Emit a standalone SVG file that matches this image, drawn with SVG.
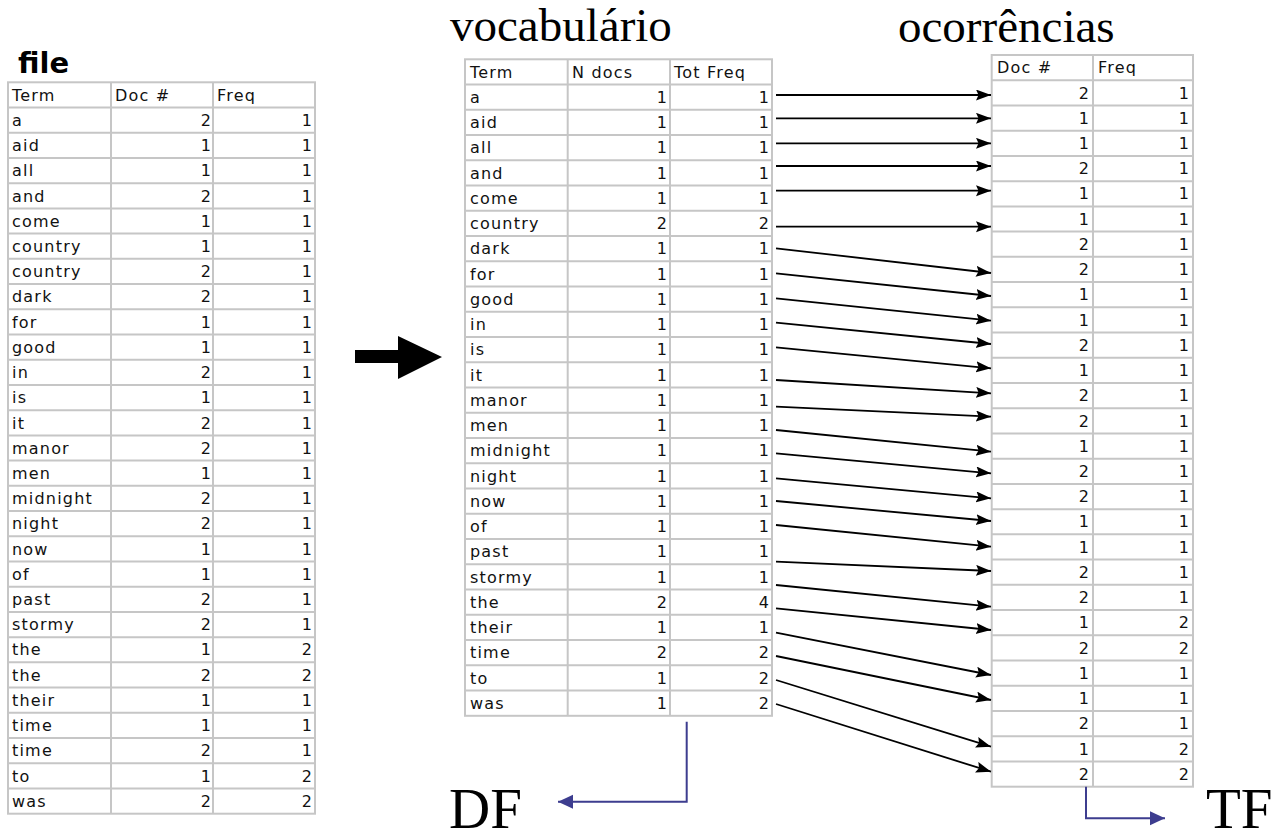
<svg xmlns="http://www.w3.org/2000/svg" width="1272" height="839" viewBox="0 0 1272 839">
  <style>
    .grid { fill: #ffffff; stroke: #c6c6c6; stroke-width: 2; }
    .gl { fill: none; stroke: #c6c6c6; stroke-width: 2; }
    .cell { font-family: "DejaVu Sans", "Liberation Sans", sans-serif; font-size: 16px; fill: #111111; }
    .term { letter-spacing: 1.2px; }
    .num { text-anchor: end; }
    .title { font-family: "Liberation Serif", "Times New Roman", serif; font-size: 47px; fill: #000000; }
    .big { font-family: "Liberation Serif", "Times New Roman", serif; font-size: 57px; fill: #000000; }
    .link { fill: none; stroke: #000000; stroke-width: 1.8; }
    .blue { fill: none; stroke: #3d3d8f; stroke-width: 2; }
  </style>
  <defs>
    <marker id="head" markerUnits="userSpaceOnUse" markerWidth="16" markerHeight="12" refX="15" refY="5.5" orient="auto">
      <path d="M0,0 L15,5.5 L0,11 L2.5,5.5 z" fill="#000000"/>
    </marker>
    <marker id="headBlue" markerUnits="userSpaceOnUse" markerWidth="16" markerHeight="15" refX="15" refY="7" orient="auto">
      <path d="M0,0 L15,7 L0,14 z" fill="#3d3d8f"/>
    </marker>
  </defs>

  <rect x="0" y="0" width="1272" height="839" fill="#ffffff"/>

  <!-- source file: term / document / frequency -->
  <g id="file-table">
    <text x="18" y="72.5" font-family="DejaVu Sans, Liberation Sans, sans-serif" font-weight="bold" font-size="29" fill="#000">file</text>
    <rect class="grid" x="8" y="82.3" width="307" height="731.4"/>
    <path class="gl" d="M111,82.3 V813.7 M213,82.3 V813.7
      M8,107.52 H315 M8,132.74 H315 M8,157.96 H315 M8,183.18 H315 M8,208.4 H315
      M8,233.62 H315 M8,258.84 H315 M8,284.06 H315 M8,309.28 H315 M8,334.5 H315
      M8,359.72 H315 M8,384.94 H315 M8,410.16 H315 M8,435.38 H315 M8,460.6 H315
      M8,485.82 H315 M8,511.04 H315 M8,536.26 H315 M8,561.48 H315 M8,586.7 H315
      M8,611.92 H315 M8,637.14 H315 M8,662.36 H315 M8,687.58 H315 M8,712.8 H315
      M8,738.02 H315 M8,763.24 H315 M8,788.46 H315"/>
    <g class="cell">
      <text class="term" x="12" y="100.6">Term</text>
      <text class="term" x="115" y="100.6">Doc #</text>
      <text class="term" x="217" y="100.6">Freq</text>
    </g>
    <g class="cell term">
      <text x="12" y="125.8">a</text>
      <text x="12" y="151.0">aid</text>
      <text x="12" y="176.3">all</text>
      <text x="12" y="201.5">and</text>
      <text x="12" y="226.7">come</text>
      <text x="12" y="251.9">country</text>
      <text x="12" y="277.1">country</text>
      <text x="12" y="302.4">dark</text>
      <text x="12" y="327.6">for</text>
      <text x="12" y="352.8">good</text>
      <text x="12" y="378.0">in</text>
      <text x="12" y="403.2">is</text>
      <text x="12" y="428.5">it</text>
      <text x="12" y="453.7">manor</text>
      <text x="12" y="478.9">men</text>
      <text x="12" y="504.1">midnight</text>
      <text x="12" y="529.3">night</text>
      <text x="12" y="554.6">now</text>
      <text x="12" y="579.8">of</text>
      <text x="12" y="605.0">past</text>
      <text x="12" y="630.2">stormy</text>
      <text x="12" y="655.4">the</text>
      <text x="12" y="680.7">the</text>
      <text x="12" y="705.9">their</text>
      <text x="12" y="731.1">time</text>
      <text x="12" y="756.3">time</text>
      <text x="12" y="781.5">to</text>
      <text x="12" y="806.8">was</text>
    </g>
    <g class="cell num">
      <text x="211" y="125.8">2</text><text x="312" y="125.8">1</text>
      <text x="211" y="151.0">1</text><text x="312" y="151.0">1</text>
      <text x="211" y="176.3">1</text><text x="312" y="176.3">1</text>
      <text x="211" y="201.5">2</text><text x="312" y="201.5">1</text>
      <text x="211" y="226.7">1</text><text x="312" y="226.7">1</text>
      <text x="211" y="251.9">1</text><text x="312" y="251.9">1</text>
      <text x="211" y="277.1">2</text><text x="312" y="277.1">1</text>
      <text x="211" y="302.4">2</text><text x="312" y="302.4">1</text>
      <text x="211" y="327.6">1</text><text x="312" y="327.6">1</text>
      <text x="211" y="352.8">1</text><text x="312" y="352.8">1</text>
      <text x="211" y="378.0">2</text><text x="312" y="378.0">1</text>
      <text x="211" y="403.2">1</text><text x="312" y="403.2">1</text>
      <text x="211" y="428.5">2</text><text x="312" y="428.5">1</text>
      <text x="211" y="453.7">2</text><text x="312" y="453.7">1</text>
      <text x="211" y="478.9">1</text><text x="312" y="478.9">1</text>
      <text x="211" y="504.1">2</text><text x="312" y="504.1">1</text>
      <text x="211" y="529.3">2</text><text x="312" y="529.3">1</text>
      <text x="211" y="554.6">1</text><text x="312" y="554.6">1</text>
      <text x="211" y="579.8">1</text><text x="312" y="579.8">1</text>
      <text x="211" y="605.0">2</text><text x="312" y="605.0">1</text>
      <text x="211" y="630.2">2</text><text x="312" y="630.2">1</text>
      <text x="211" y="655.4">1</text><text x="312" y="655.4">2</text>
      <text x="211" y="680.7">2</text><text x="312" y="680.7">2</text>
      <text x="211" y="705.9">1</text><text x="312" y="705.9">1</text>
      <text x="211" y="731.1">1</text><text x="312" y="731.1">1</text>
      <text x="211" y="756.3">2</text><text x="312" y="756.3">1</text>
      <text x="211" y="781.5">1</text><text x="312" y="781.5">2</text>
      <text x="211" y="806.8">2</text><text x="312" y="806.8">2</text>
    </g>
  </g>

  <!-- transformation arrow -->
  <g id="transform-arrow">
    <polygon points="355,350 398,350 398,336 442,357 398,379 398,363 355,363" fill="#000000"/>
  </g>

  <!-- vocabulary: term / number of docs / total frequency -->
  <g id="vocabulary-table">
    <text class="title" x="450" y="41">vocabulário</text>
    <rect class="grid" x="465" y="59.3" width="307" height="656.5"/>
    <path class="gl" d="M567.7,59.3 V715.8 M670,59.3 V715.8
      M465,84.55 H772 M465,109.8 H772 M465,135.05 H772 M465,160.3 H772 M465,185.55 H772
      M465,210.8 H772 M465,236.05 H772 M465,261.3 H772 M465,286.55 H772 M465,311.8 H772
      M465,337.05 H772 M465,362.3 H772 M465,387.55 H772 M465,412.8 H772 M465,438.05 H772
      M465,463.3 H772 M465,488.55 H772 M465,513.8 H772 M465,539.05 H772 M465,564.3 H772
      M465,589.55 H772 M465,614.8 H772 M465,640.05 H772 M465,665.3 H772 M465,690.55 H772"/>
    <g class="cell term">
      <text x="470" y="77.6">Term</text>
      <text x="572" y="77.6">N docs</text>
      <text x="674" y="77.6">Tot Freq</text>
      <text x="470" y="102.85">a</text>
      <text x="470" y="128.1">aid</text>
      <text x="470" y="153.35">all</text>
      <text x="470" y="178.6">and</text>
      <text x="470" y="203.85">come</text>
      <text x="470" y="229.1">country</text>
      <text x="470" y="254.35">dark</text>
      <text x="470" y="279.6">for</text>
      <text x="470" y="304.85">good</text>
      <text x="470" y="330.1">in</text>
      <text x="470" y="355.35">is</text>
      <text x="470" y="380.6">it</text>
      <text x="470" y="405.85">manor</text>
      <text x="470" y="431.1">men</text>
      <text x="470" y="456.35">midnight</text>
      <text x="470" y="481.6">night</text>
      <text x="470" y="506.85">now</text>
      <text x="470" y="532.1">of</text>
      <text x="470" y="557.35">past</text>
      <text x="470" y="582.6">stormy</text>
      <text x="470" y="607.85">the</text>
      <text x="470" y="633.1">their</text>
      <text x="470" y="658.35">time</text>
      <text x="470" y="683.6">to</text>
      <text x="470" y="708.85">was</text>
    </g>
    <g class="cell num">
      <text x="667" y="102.85">1</text><text x="769" y="102.85">1</text>
      <text x="667" y="128.1">1</text><text x="769" y="128.1">1</text>
      <text x="667" y="153.35">1</text><text x="769" y="153.35">1</text>
      <text x="667" y="178.6">1</text><text x="769" y="178.6">1</text>
      <text x="667" y="203.85">1</text><text x="769" y="203.85">1</text>
      <text x="667" y="229.1">2</text><text x="769" y="229.1">2</text>
      <text x="667" y="254.35">1</text><text x="769" y="254.35">1</text>
      <text x="667" y="279.6">1</text><text x="769" y="279.6">1</text>
      <text x="667" y="304.85">1</text><text x="769" y="304.85">1</text>
      <text x="667" y="330.1">1</text><text x="769" y="330.1">1</text>
      <text x="667" y="355.35">1</text><text x="769" y="355.35">1</text>
      <text x="667" y="380.6">1</text><text x="769" y="380.6">1</text>
      <text x="667" y="405.85">1</text><text x="769" y="405.85">1</text>
      <text x="667" y="431.1">1</text><text x="769" y="431.1">1</text>
      <text x="667" y="456.35">1</text><text x="769" y="456.35">1</text>
      <text x="667" y="481.6">1</text><text x="769" y="481.6">1</text>
      <text x="667" y="506.85">1</text><text x="769" y="506.85">1</text>
      <text x="667" y="532.1">1</text><text x="769" y="532.1">1</text>
      <text x="667" y="557.35">1</text><text x="769" y="557.35">1</text>
      <text x="667" y="582.6">1</text><text x="769" y="582.6">1</text>
      <text x="667" y="607.85">2</text><text x="769" y="607.85">4</text>
      <text x="667" y="633.1">1</text><text x="769" y="633.1">1</text>
      <text x="667" y="658.35">2</text><text x="769" y="658.35">2</text>
      <text x="667" y="683.6">1</text><text x="769" y="683.6">2</text>
      <text x="667" y="708.85">1</text><text x="769" y="708.85">2</text>
    </g>
  </g>

  <!-- occurrences: document / frequency -->
  <g id="occurrences-table">
    <text class="title" x="898" y="42">ocorrências</text>
    <rect class="grid" x="991.7" y="55" width="201.3" height="731.7"/>
    <path class="gl" d="M1093,55 V786.7
      M991.7,80.23 H1193 M991.7,105.46 H1193 M991.7,130.69 H1193 M991.7,155.92 H1193 M991.7,181.15 H1193
      M991.7,206.38 H1193 M991.7,231.61 H1193 M991.7,256.84 H1193 M991.7,282.07 H1193 M991.7,307.3 H1193
      M991.7,332.53 H1193 M991.7,357.76 H1193 M991.7,382.99 H1193 M991.7,408.22 H1193 M991.7,433.45 H1193
      M991.7,458.68 H1193 M991.7,483.91 H1193 M991.7,509.14 H1193 M991.7,534.37 H1193 M991.7,559.6 H1193
      M991.7,584.83 H1193 M991.7,610.06 H1193 M991.7,635.29 H1193 M991.7,660.52 H1193 M991.7,685.75 H1193
      M991.7,710.98 H1193 M991.7,736.21 H1193 M991.7,761.44 H1193"/>
    <g class="cell term">
      <text x="997" y="73.3">Doc #</text>
      <text x="1098" y="73.3">Freq</text>
    </g>
    <g class="cell num">
      <text x="1089" y="98.53">2</text><text x="1189" y="98.53">1</text>
      <text x="1089" y="123.76">1</text><text x="1189" y="123.76">1</text>
      <text x="1089" y="148.99">1</text><text x="1189" y="148.99">1</text>
      <text x="1089" y="174.22">2</text><text x="1189" y="174.22">1</text>
      <text x="1089" y="199.45">1</text><text x="1189" y="199.45">1</text>
      <text x="1089" y="224.68">1</text><text x="1189" y="224.68">1</text>
      <text x="1089" y="249.91">2</text><text x="1189" y="249.91">1</text>
      <text x="1089" y="275.14">2</text><text x="1189" y="275.14">1</text>
      <text x="1089" y="300.37">1</text><text x="1189" y="300.37">1</text>
      <text x="1089" y="325.6">1</text><text x="1189" y="325.6">1</text>
      <text x="1089" y="350.83">2</text><text x="1189" y="350.83">1</text>
      <text x="1089" y="376.06">1</text><text x="1189" y="376.06">1</text>
      <text x="1089" y="401.29">2</text><text x="1189" y="401.29">1</text>
      <text x="1089" y="426.52">2</text><text x="1189" y="426.52">1</text>
      <text x="1089" y="451.75">1</text><text x="1189" y="451.75">1</text>
      <text x="1089" y="476.98">2</text><text x="1189" y="476.98">1</text>
      <text x="1089" y="502.21">2</text><text x="1189" y="502.21">1</text>
      <text x="1089" y="527.44">1</text><text x="1189" y="527.44">1</text>
      <text x="1089" y="552.67">1</text><text x="1189" y="552.67">1</text>
      <text x="1089" y="577.9">2</text><text x="1189" y="577.9">1</text>
      <text x="1089" y="603.13">2</text><text x="1189" y="603.13">1</text>
      <text x="1089" y="628.36">1</text><text x="1189" y="628.36">2</text>
      <text x="1089" y="653.59">2</text><text x="1189" y="653.59">2</text>
      <text x="1089" y="678.82">1</text><text x="1189" y="678.82">1</text>
      <text x="1089" y="704.05">1</text><text x="1189" y="704.05">1</text>
      <text x="1089" y="729.28">2</text><text x="1189" y="729.28">1</text>
      <text x="1089" y="754.51">1</text><text x="1189" y="754.51">2</text>
      <text x="1089" y="779.74">2</text><text x="1189" y="779.74">2</text>
    </g>
  </g>

  <!-- labels for the derived measures -->
  <g id="df-label">
    <text class="big" x="449" y="828">DF</text>
  </g>
  <g id="tf-label">
    <text class="big" x="1206" y="828" font-size="48">TF</text>
  </g>

  <!-- connectors: each vocabulary entry points at its first occurrence -->
  <g id="connectors">
    <g class="link" marker-end="url(#head)">
      <line x1="776" y1="95" x2="991" y2="95"/>
      <line x1="776" y1="118.3" x2="991" y2="118.3"/>
      <line x1="776" y1="143.3" x2="991" y2="143.3"/>
      <line x1="776" y1="166" x2="991" y2="166"/>
      <line x1="776" y1="190.7" x2="991" y2="190.7"/>
      <line x1="776" y1="226.7" x2="991" y2="226.7"/>
      <line x1="776" y1="248.3" x2="991" y2="273"/>
      <line x1="776" y1="273.3" x2="991" y2="296"/>
      <line x1="776" y1="298.3" x2="991" y2="320.7"/>
      <line x1="776" y1="322.7" x2="991" y2="344"/>
      <line x1="776" y1="347.3" x2="991" y2="368.3"/>
      <line x1="776" y1="380" x2="991" y2="393.3"/>
      <line x1="776" y1="406.7" x2="991" y2="416.7"/>
      <line x1="776" y1="430" x2="991" y2="451.7"/>
      <line x1="776" y1="453.3" x2="991" y2="473.3"/>
      <line x1="776" y1="478.3" x2="991" y2="498.3"/>
      <line x1="776" y1="501" x2="991" y2="521"/>
      <line x1="776" y1="525" x2="991" y2="546.7"/>
      <line x1="776" y1="561.7" x2="991" y2="571"/>
      <line x1="776" y1="585" x2="991" y2="606.7"/>
      <line x1="776" y1="608.3" x2="991" y2="630"/>
      <line x1="776" y1="632.7" x2="991" y2="675"/>
      <line x1="776" y1="656" x2="991" y2="700"/>
      <line x1="776" y1="680" x2="991" y2="746.7"/>
      <line x1="776" y1="704" x2="991" y2="771.7"/>
    </g>
    <path class="blue" d="M686.7,721.7 V801.7 H558" marker-end="url(#headBlue)"/>
    <path class="blue" d="M1086,786.7 V818.3 H1165" marker-end="url(#headBlue)"/>
  </g>
</svg>
